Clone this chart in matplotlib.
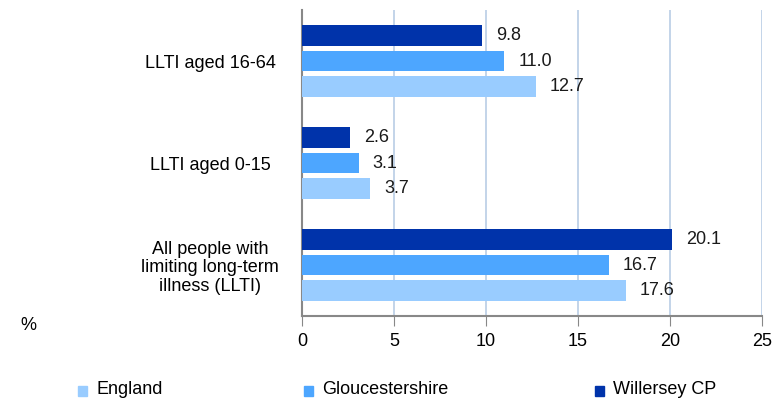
import numpy as np
import matplotlib.pyplot as plt
from matplotlib.patches import Rectangle

categories = ['LLTI aged 16-64', 'LLTI aged 0-15',
              'All people with\nlimiting long-term\nillness (LLTI)']
series = ['England', 'Gloucestershire', 'Willersey CP']
england = [12.7, 3.7, 17.6]
glos = [11.0, 3.1, 16.7]
willersey = [9.8, 2.6, 20.1]
colors = ['#99CCFF', '#4DA6FF', '#0033AA']

plt.rcParams['font.family'] = ['Liberation Sans', 'DejaVu Sans']
fs = 13

fig = plt.figure(figsize=(7.72, 4.01), dpi=100)
ax = fig.add_axes([302 / 772, 85 / 401, 460 / 772, 306 / 401])

y = np.arange(len(categories))
h = 0.205
offsets = [0.25, 0.0, -0.25]  # England lowest, Willersey on top
for vals, off, c in zip([england, glos, willersey], offsets, colors):
    ax.barh(y + off, vals, height=h, color=c, zorder=3)
    for yi, v in zip(y, vals):
        ax.text(v + 0.75, yi + off, f'{v:.1f}', va='center', ha='left',
                fontsize=fs, color='#1a1a1a')

ax.set_xlim(0, 25)
ax.set_ylim(2.5, -0.5)
ax.set_xticks(range(0, 26, 5))
ax.set_xticklabels([str(t) for t in range(0, 26, 5)], fontsize=fs)
ax.set_yticks(y)
ax.set_yticklabels(categories, fontsize=fs, ha='center', linespacing=1.15)
ax.tick_params(axis='y', length=0, pad=66)
ax.tick_params(axis='x', length=7, color='#888888', pad=5, direction='out')
ax.grid(axis='x', color='#B9CDE5', linewidth=1.2, zorder=0)
for s in ['top', 'right']:
    ax.spines[s].set_visible(False)
ax.spines['left'].set_color('#888888')
ax.spines['bottom'].set_color('#888888')
ax.spines['left'].set_linewidth(1.5)
ax.spines['bottom'].set_linewidth(1.5)

fig.text(20 / 772, 1 - 326 / 401, '%', fontsize=fs, va='center', ha='left')

# legend
leg_x = [78, 304, 595]
for lx, name, c in zip(leg_x, series, colors):
    fig.patches.append(Rectangle((lx / 772, 1 - 396 / 401), 9 / 772, 10 / 401,
                                 transform=fig.transFigure, color=c))
    fig.text((lx + 18) / 772, 1 - 390 / 401, name, fontsize=fs, va='center', ha='left')

fig.savefig('out.png', dpi=100)
